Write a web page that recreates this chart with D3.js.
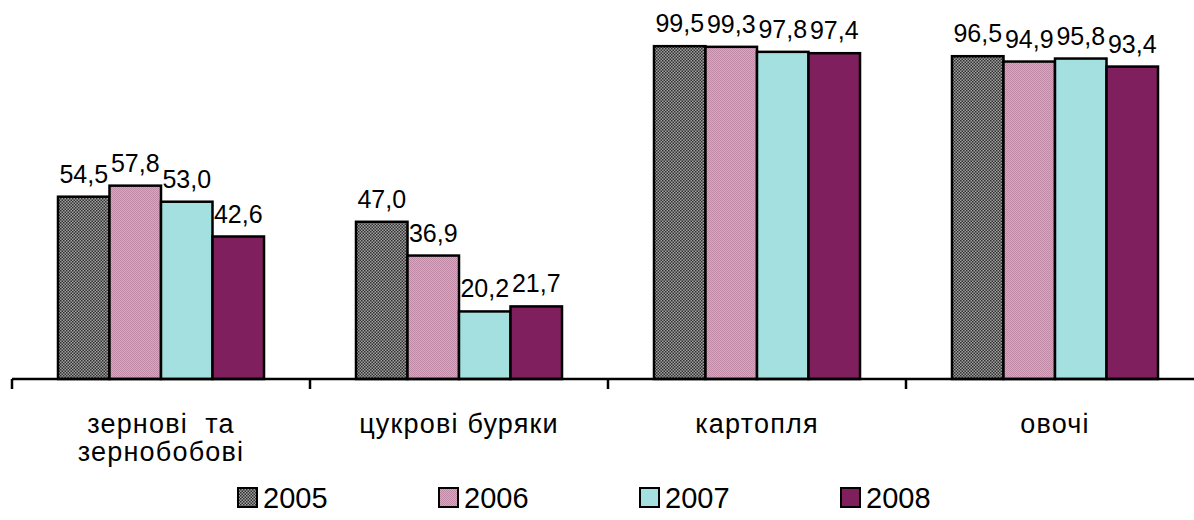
<!DOCTYPE html>
<html>
<head>
<meta charset="utf-8">
<script src="https://cdn.jsdelivr.net/npm/d3@7"></script>
<style>
  body { margin: 0; background: white; }
  text { font-family: Arial, "Liberation Sans", sans-serif; fill: black; }
</style>
</head>
<body>
<svg id="chart" width="1194" height="520"></svg>
<script>
const categories = [["зернові  та", "зернобобові"], ["цукрові буряки"], ["картопля"], ["овочі"]];
const years = ["2005", "2006", "2007", "2008"];
const v2005 = [54.5, 47.0, 99.5, 96.5];
const v2006 = [57.8, 36.9, 99.3, 94.9];
const v2007 = [53.0, 20.2, 97.8, 95.8];
const v2008 = [42.6, 21.7, 97.4, 93.4];
const series = [v2005, v2006, v2007, v2008];

const svg = d3.select("svg#chart");
const defs = svg.append("defs");

// fill patterns like the excel ones
function pattern(id, bg, dot, size) {
  const p = defs.append("pattern")
    .attr("id", id)
    .attr("width", size)
    .attr("height", size)
    .attr("patternUnits", "userSpaceOnUse");
  p.append("rect").attr("width", size).attr("height", size).attr("fill", bg);
  p.append("rect").attr("width", size / 2).attr("height", size / 2).attr("fill", dot);
  p.append("rect").attr("x", size / 2).attr("y", size / 2)
    .attr("width", size / 2).attr("height", size / 2).attr("fill", dot);
}
pattern("p2005", "#a0a0a0", "#303030", 3);
pattern("p2006", "#dca6c2", "#c08aa6", 2);

const fills = {
  "2005": "url(#p2005)",
  "2006": "url(#p2006)",
  "2007": "#a5e0e0",
  "2008": "#801f5e"
};

const x = d3.scaleBand()
  .domain(d3.range(categories.length))
  .range([12, 1204]);

const xs = d3.scaleBand()
  .domain(years)
  .range([0, x.bandwidth()])
  .paddingOuter(0.893);

const y = d3.scaleLinear()
  .domain([0, 100])
  .range([379, 44.5]);

const groups = svg.selectAll("g.cat")
  .data(categories)
  .enter()
  .append("g")
  .attr("class", "cat")
  .attr("transform", (d, i) => translate(x(i), 0));

years.forEach(function(yr, j) {
  groups.append("rect")
    .attr("x", xs(yr))
    .attr("y", (d, i) => y(series[j][i]))
    .attr("width", xs.bandwidth())
    .attr("height", (d, i) => y(0) - y(series[j][i]))
    .attr("fill", fills[yr])
    .attr("stroke", "black")
    .attr("stroke-width", 2.5);

  groups.append("text")
    .attr("x", xs(yr) + xs.bandwidth() / 2)
    .attr("y", (d, i) => y(series[j][i]) - 14)
    .attr("text-anchor", "middle")
    .style("font-size", "25px")
    .text((d, i) => series[j][i].toFixed(1).replace(".", ","));
});

// axis
svg.append("line")
  .attr("x1", 12).attr("x2", 1194)
  .attr("y1", y(0)).attr("y2", y(0))
  .attr("stroke", "black").attr("stroke-width", 2.5);

svg.selectAll("line.tick")
  .data(d3.range(categories.length))
  .enter()
  .append("line")
  .attr("class", "tick")
  .attr("x1", d => x(d)).attr("x2", d => x(d))
  .attr("y1", y(0)).attr("y2", y(0) + 10)
  .attr("stroke", "black").attr("stroke-width", 2.5);

groups.append("text")
  .attr("text-anchor", "middle")
  .style("font-size", "27px")
  .style("letter-spacing", "1.2px")
  .style("white-space", "pre")
  .selectAll("tspan")
  .data(d => d)
  .enter()
  .append("tspan")
  .attr("x", x.bandwidth() / 2)
  .attr("y", (d, k) => 433 + k * 28)
  .text(d => d);

// legend
const legend = svg.append("g").attr("transform", translate(237, 0));
years.forEach(function(yr, j) {
  const item = legend.append("g").attr("transform", translate(j * 201, 0));
  item.append("rect")
    .attr("x", 1).attr("y", 488)
    .attr("width", 19).attr("height", 19)
    .attr("fill", fills[yr])
    .attr("stroke", "black").attr("stroke-width", 2);
  item.append("text")
    .attr("x", 26).attr("y", 508)
    .style("font-size", "29px")
    .text(yr);
});

function translate(x, y) {
  return "translate(" + String(x) + "," + String(y) + ")";
}
</script>
</body>
</html>
